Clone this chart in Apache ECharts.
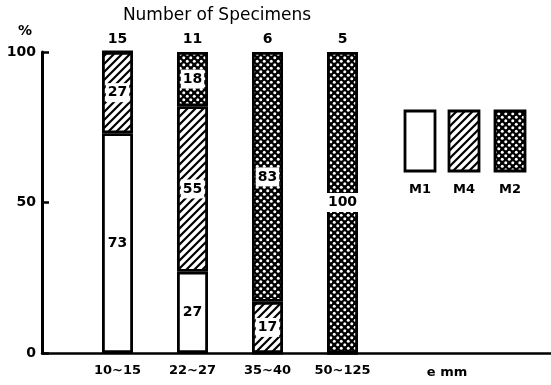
<!DOCTYPE html>
<html>
<head>
<meta charset="utf-8">
<script src="https://cdn.jsdelivr.net/npm/echarts@6/dist/echarts.min.js"></script>
<style>
html,body{margin:0;padding:0;background:#fff;}
#chart{width:551px;height:385px;}
</style>
</head>
<body>
<div id="chart"></div>
<script>
// ---- data ----
var categories = ['10~15', '22~27', '35~40', '50~125'];
var specimenCounts = ['15', '11', '6', '5'];
var m1Values = [73, 27, 0, 0];
var m4Values = [27, 55, 17, 0];
var m2Values = [0, 18, 83, 100];
var yTicks = [0, 50, 100];
var legendNames = ['M1', 'M4', 'M2'];

// ---- patterns ----
function hatchPattern() {
  var s = 8, c = document.createElement('canvas');
  c.width = s; c.height = s;
  var g = c.getContext('2d');
  g.fillStyle = '#fff'; g.fillRect(0, 0, s, s);
  g.strokeStyle = '#000'; g.lineWidth = 2.2; g.lineCap = 'square';
  g.beginPath();
  g.moveTo(0, s); g.lineTo(s, 0);
  g.moveTo(-s, s); g.lineTo(0, 0);
  g.moveTo(s, 2 * s); g.lineTo(2 * s, s);
  g.moveTo(-1, 1); g.lineTo(1, -1);
  g.moveTo(s - 1, s + 1); g.lineTo(s + 1, s - 1);
  g.stroke();
  return c;
}
function crossPattern() {
  var s = 7, c = document.createElement('canvas');
  c.width = s; c.height = s;
  var g = c.getContext('2d');
  g.fillStyle = '#000'; g.fillRect(0, 0, s, s);
  g.fillStyle = '#fff';
  [[1.75, 1.75], [5.25, 5.25]].forEach(function (p) {
    g.beginPath(); g.arc(p[0], p[1], 1.5, 0, Math.PI * 2); g.fill();
  });
  return c;
}
var hatchFill = { image: hatchPattern(), repeat: 'repeat' };
var crossFill = { image: crossPattern(), repeat: 'repeat' };
var fills = ['#fff', hatchFill, crossFill];

var FONT = 'DejaVu Sans';
var labelCfg = {
  show: true,
  position: 'inside',
  color: '#000',
  fontFamily: FONT,
  fontWeight: 'bold',
  fontSize: 14,
  backgroundColor: '#fff',
  padding: [3, 2, 2, 2]
};

function toItems(values) {
  return values.map(function (v) {
    return v > 0 ? v : { value: v, label: { show: false } };
  });
}

function barSeries(name, values, fill) {
  return {
    name: name,
    type: 'bar',
    stack: 'all',
    xAxisIndex: 0,
    yAxisIndex: 0,
    barWidth: 31,
    data: toItems(values),
    itemStyle: { color: fill, borderColor: '#000', borderWidth: 2.8 },
    label: labelCfg,
    emphasis: { disabled: true },
    silent: true
  };
}

var chart = echarts.init(document.getElementById('chart'), null, { renderer: 'canvas' });

// legend boxes (drawn as graphics)
var legendGraphics = [];
var lx = [405, 449, 495];
for (var i = 0; i < 3; i++) {
  legendGraphics.push({
    type: 'rect',
    shape: { x: lx[i], y: 111, width: 30, height: 60 },
    style: { fill: fills[i], stroke: '#000', lineWidth: 2.8 }
  });
  legendGraphics.push({
    type: 'text',
    style: {
      x: lx[i] + 15, y: 190, text: legendNames[i], textAlign: 'center', textVerticalAlign: 'middle',
      font: 'bold 13px "' + FONT + '"', fill: '#000'
    }
  });
}
legendGraphics.push({
  type: 'text',
  style: {
    x: 447, y: 373, text: 'e mm', textAlign: 'center', textVerticalAlign: 'middle',
    font: 'bold 13px "' + FONT + '"', fill: '#000'
  }
});

chart.setOption({
  animation: false,
  backgroundColor: '#fff',
  title: {
    text: 'Number of Specimens',
    left: 212, top: 2,
    textAlign: 'center',
    textStyle: { fontFamily: FONT, fontSize: 17, fontWeight: 'normal', color: '#000' }
  },
  grid: [
    { left: 80, right: 171, top: 52, bottom: 32 },
    { left: 42, right: 0, top: 52, bottom: 32 }
  ],
  xAxis: [
    {
      type: 'category', gridIndex: 0, data: categories,
      axisLine: { show: false }, axisTick: { show: false },
      axisLabel: { margin: 11, color: '#000', fontFamily: FONT, fontWeight: 'bold', fontSize: 13 }
    },
    {
      type: 'category', gridIndex: 0, position: 'top', data: specimenCounts,
      axisLine: { show: false }, axisTick: { show: false },
      axisLabel: { margin: 6, color: '#000', fontFamily: FONT, fontWeight: 'bold', fontSize: 14 }
    },
    {
      type: 'value', gridIndex: 1, min: 0, max: 1,
      axisLine: { show: true, lineStyle: { color: '#000', width: 2.5 } },
      axisTick: { show: false }, axisLabel: { show: false }, splitLine: { show: false }
    }
  ],
  yAxis: [
    {
      type: 'value', gridIndex: 0, min: 0, max: 100,
      show: false
    },
    {
      type: 'value', gridIndex: 1, min: 0, max: 100, interval: 50,
      name: '%', nameLocation: 'end', nameGap: 14,
      nameTextStyle: { color: '#000', fontFamily: FONT, fontWeight: 'bold', fontSize: 14, align: 'right', padding: [0, 10, 0, 0] },
      axisLine: { show: true, lineStyle: { color: '#000', width: 3 } },
      axisTick: { show: true, inside: true, length: 7, lineStyle: { color: '#000', width: 2.5 } },
      axisLabel: {
        color: '#000', fontFamily: FONT, fontWeight: 'bold', fontSize: 14, margin: 6,
        formatter: function (v) { return yTicks.indexOf(v) >= 0 ? String(v) : ''; }
      },
      splitLine: { show: false }
    }
  ],
  series: [
    barSeries('M1', m1Values, fills[0]),
    barSeries('M4', m4Values, fills[1]),
    barSeries('M2', m2Values, fills[2])
  ],
  graphic: legendGraphics
});
</script>
</body>
</html>
